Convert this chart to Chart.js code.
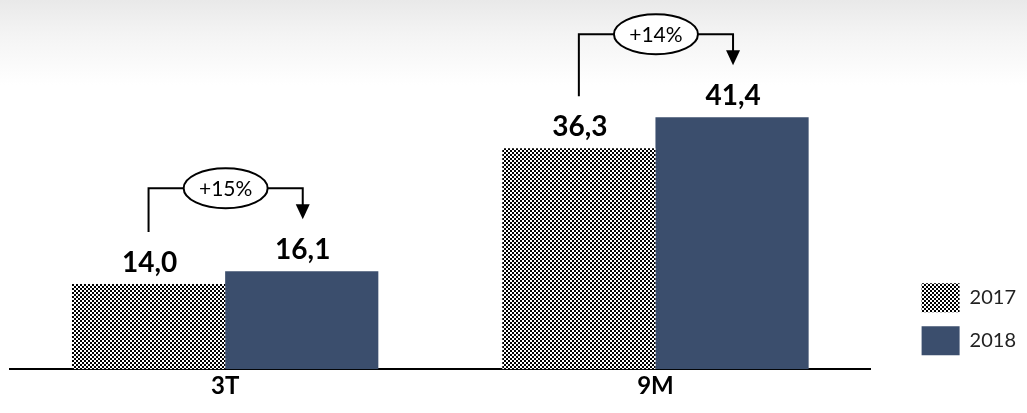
<!DOCTYPE html>
<html lang="es">
<head>
<meta charset="UTF-8">
<title>3T / 9M 2017 vs 2018</title>
<script src="https://cdn.jsdelivr.net/npm/chart.js"></script>
<style>
  html, body { margin: 0; padding: 0; }
  body {
    width: 1027px; height: 413px; overflow: hidden;
    background: linear-gradient(to bottom, #e9e9e9 0px, #f4f4f4 35px, #ffffff 85px);
  }
  #wrap { position: relative; width: 1027px; height: 413px; }
</style>
</head>
<body>
<div id="wrap"><canvas id="chart"></canvas></div>
<script>
const categories = ["3T", "9M"];
const years = ["2017", "2018"];
const values2017 = [14.0, 36.3];
const values2018 = [16.1, 41.4];
const growthLabels = ["+15%", "+14%"];

// 2px checker pattern for 2017
function checker() {
  const c = document.createElement("canvas");
  c.width = 4; c.height = 4;
  const g = c.getContext("2d");
  g.fillStyle = "#fff"; g.fillRect(0, 0, 4, 4);
  g.fillStyle = "#000"; g.fillRect(0, 0, 2, 2); g.fillRect(2, 2, 2, 2);
  return g.createPattern(c, "repeat");
}

const fmt = v => v.toFixed(1).replace(".", ",");

// value labels + growth brackets
const annotations = {
  id: "annotations",
  afterDatasetsDraw(chart) {
    const ctx = chart.ctx;
    const m0 = chart.getDatasetMeta(0), m1 = chart.getDatasetMeta(1);
    ctx.save();
    ctx.fillStyle = "#000";
    ctx.textAlign = "center";
    ctx.textBaseline = "alphabetic";
    ctx.font = "bold 28px Lato";
    [m0, m1].forEach((meta, di) => {
      meta.data.forEach((bar, i) => {
        ctx.fillText(fmt(chart.data.datasets[di].data[i]), bar.x + 1, bar.y - 12);
      });
    });

    ctx.strokeStyle = "#000";
    ctx.lineWidth = 2;
    m0.data.forEach((b0, i) => {
      const b1 = m1.data[i];
      const x0 = b0.x, x1 = b1.x + 1;
      const topY = Math.min(b0.y, b1.y) - 83;
      ctx.beginPath();
      ctx.moveTo(x0, b0.y - 52);
      ctx.lineTo(x0, topY);
      ctx.lineTo(x1, topY);
      ctx.lineTo(x1, b1.y - 66);
      ctx.stroke();
      ctx.beginPath();
      ctx.moveTo(x1 - 7, b1.y - 67);
      ctx.lineTo(x1 + 7, b1.y - 67);
      ctx.lineTo(x1, b1.y - 52);
      ctx.closePath();
      ctx.fillStyle = "#000";
      ctx.fill();

      const cx = (x0 + x1) / 2;
      ctx.beginPath();
      ctx.ellipse(cx, topY, 42, 20, 0, 0, Math.PI * 2);
      ctx.fillStyle = "#fff";
      ctx.fill();
      ctx.stroke();
      ctx.fillStyle = "#000";
      ctx.font = "21px Lato";
      ctx.textBaseline = "middle";
      ctx.fillText(growthLabels[i], cx, topY + 1);
      ctx.textBaseline = "alphabetic";
    });
    ctx.restore();
  }
};

new Chart(document.getElementById("chart"), {
  type: "bar",
  data: {
    labels: categories,
    datasets: [
      { label: years[0], data: values2017, backgroundColor: checker(), borderWidth: 0 },
      { label: years[1], data: values2018, backgroundColor: "#3b4e6d", borderWidth: 0 }
    ]
  },
  options: {
    responsive: true,
    maintainAspectRatio: false,
    animation: false,
    layout: { padding: { left: 10, top: 4, right: 1, bottom: 9 } },
    datasets: { bar: { categoryPercentage: 0.712, barPercentage: 1 } },
    plugins: {
      legend: {
        position: "right",
        align: "end",
        fullSize: false,
        labels: {
          boxWidth: 38,
          boxHeight: 29,
          padding: 14,
          color: "#222",
          font: { family: "Lato", size: 20 }
        }
      },
      tooltip: { enabled: false }
    },
    scales: {
      x: {
        grid: { display: false, drawTicks: false },
        border: { display: true, color: "#000", width: 2 },
        ticks: { color: "#000", padding: 3, font: { family: "Lato", size: 24, weight: "bold" } }
      },
      y: {
        position: "right",
        min: 0, max: 60,
        grid: { display: false, drawTicks: false },
        border: { display: false },
        ticks: { display: false },
        afterFit: s => { s.width = 37; }
      }
    }
  },
  plugins: [annotations]
});
</script>
</body>
</html>
